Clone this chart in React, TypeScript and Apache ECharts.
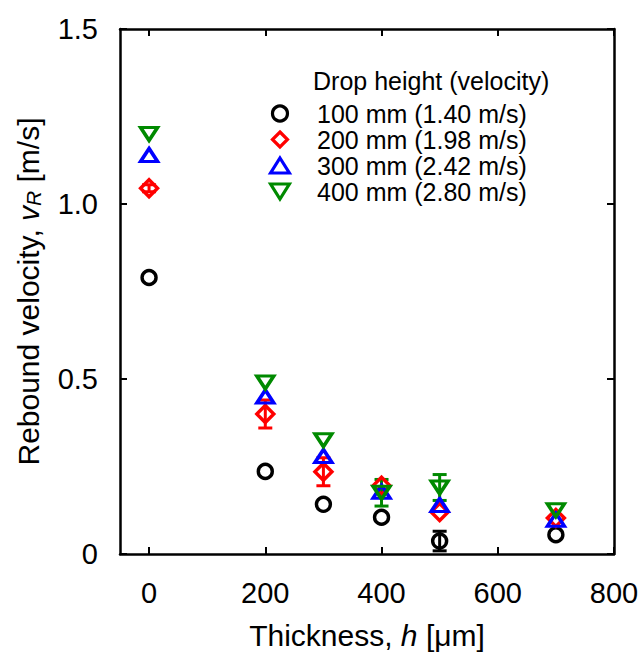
import React, { useEffect, useRef } from "react";
import * as echarts from "echarts";

const thickness = [0, 200, 300, 400, 500, 700];
const v100 = [0.79, 0.236, 0.142, 0.105, 0.037, 0.055];
const e100 = [0, 0, 0, 0, 0.028, 0];
const v200 = [1.045, 0.4, 0.235, 0.195, 0.12, 0.103];
const e200 = [0.01, 0.04, 0.04, 0, 0, 0];
const v300 = [1.14, 0.45, 0.28, 0.178, 0.14, 0.098];
const e300 = [0, 0, 0, 0, 0, 0];
const v400 = [1.2, 0.49, 0.325, 0.175, 0.19, 0.125];
const e400 = [0, 0, 0, 0.038, 0.037, 0];
const seriesNames = [
  "100 mm (1.40 m/s)",
  "200 mm (1.98 m/s)",
  "300 mm (2.42 m/s)",
  "400 mm (2.80 m/s)",
];
const xTicks = [0, 200, 400, 600, 800];

const FONT = "'Liberation Sans', Arial, Helvetica, sans-serif";

export default function App() {
  const ref = useRef<HTMLDivElement>(null);
  useEffect(() => {
    if (!ref.current) return;
    const chart = echarts.init(ref.current, null, { renderer: "svg" });
    const colors = ["#000000", "#ff0000", "#0000ff", "#008a00"];
    const vals = [v100, v200, v300, v400];
    const errs = [e100, e200, e300, e400];
    const symbols = [
      "circle",
      "path://M1,0L2,1L1,2L0,1Z",
      "path://M1,0L2,1.6L0,1.6Z",
      "path://M0,0L2,0L1,1.6Z",
    ];
    const sizes: any[] = [14, [17, 17], [17, 13], [17, 13]];

    const errSeries = vals.map((v, si) => ({
      type: "custom",
      name: "err" + si,
      z: 2,
      silent: true,
      data: thickness
        .map((x, i) => [x, v[i] - errs[si][i], v[i] + errs[si][i], errs[si][i]])
        .filter((d) => d[3] > 0),
      renderItem: (params: any, api: any) => {
        const x = api.value(0);
        const lo = api.coord([x, api.value(1)]);
        const hi = api.coord([x, api.value(2)]);
        const hw = 7;
        const st = { stroke: colors[si], lineWidth: 3 };
        return {
          type: "group",
          children: [
            { type: "line", shape: { x1: lo[0], y1: lo[1], x2: hi[0], y2: hi[1] }, style: st },
            { type: "line", shape: { x1: lo[0] - hw, y1: lo[1], x2: lo[0] + hw, y2: lo[1] }, style: st },
            { type: "line", shape: { x1: hi[0] - hw, y1: hi[1], x2: hi[0] + hw, y2: hi[1] }, style: st },
          ],
        };
      },
      encode: { x: 0, y: [1, 2] },
    }));

    const scatterSeries = vals.map((v, si) => ({
      type: "scatter",
      name: seriesNames[si],
      z: 3,
      symbol: symbols[si],
      symbolSize: sizes[si],
      itemStyle: {
        color: "rgba(0,0,0,0)",
        borderColor: colors[si],
        borderWidth: 3.4,
        opacity: 1,
      },
      data: thickness.map((x, i) => [x, v[i]]),
    }));

    const axisCommon = {
      axisLine: { show: true, onZero: false, lineStyle: { color: "#000", width: 2.5 } },
      axisTick: { show: true, inside: true, length: 7, lineStyle: { color: "#000", width: 2 } },
      splitLine: { show: false },
    };

    chart.setOption({
      animation: false,
      textStyle: { fontFamily: FONT },
      grid: { left: 120, right: 30, top: 29, bottom: 99 },
      legend: {
        show: true,
        orient: "vertical",
        left: 264,
        top: 96,
        itemWidth: 38,
        itemHeight: 15,
        itemGap: 1,
        data: seriesNames.map((n, si) => ({
          name: n,
          itemStyle: { color: "rgba(0,0,0,0)", borderColor: colors[si], borderWidth: 3.2 },
        })),
        textStyle: {
          fontFamily: FONT,
          fontSize: 25,
          color: "#000",
          lineHeight: 25,
          padding: [0, 0, 0, 13],
        },
        selectedMode: false,
      },
      graphic: [
        {
          type: "text",
          left: 313,
          top: 68,
          style: { text: "Drop height (velocity)", font: `25px ${FONT}`, fill: "#000" },
        },
      ],
      xAxis: [
        {
          type: "value",
          min: -50,
          max: 800,
          ...axisCommon,
          axisTick: { ...axisCommon.axisTick, customValues: xTicks },
          axisLabel: {
            customValues: xTicks,
            fontSize: 29,
            color: "#000",
            margin: 24,
            fontFamily: FONT,
          },
          name: "Thickness, {i|h} [μm]",
          nameLocation: "middle",
          nameGap: 66,
          nameTextStyle: {
            fontSize: 30,
            color: "#000",
            fontFamily: FONT,
            rich: { i: { fontSize: 30, fontStyle: "italic", fontFamily: FONT, color: "#000" } },
          },
        },
        {
          type: "value",
          min: -50,
          max: 800,
          position: "top",
          ...axisCommon,
          axisTick: { ...axisCommon.axisTick, customValues: xTicks },
          axisLabel: { show: false },
        },
      ],
      yAxis: [
        {
          type: "value",
          min: 0,
          max: 1.5,
          interval: 0.5,
          ...axisCommon,
          axisLabel: {
            fontSize: 29,
            color: "#000",
            margin: 22,
            fontFamily: FONT,
            formatter: (v: number) => (v === 0 ? "0" : v.toFixed(1)),
          },
          name: "Rebound velocity, {i|v}{sub|R} [m/s]",
          nameLocation: "middle",
          nameGap: 76,
          nameTextStyle: {
            fontSize: 30,
            color: "#000",
            fontFamily: FONT,
            rich: {
              i: { fontSize: 30, fontStyle: "italic", fontFamily: FONT, color: "#000" },
              sub: {
                fontSize: 21,
                fontStyle: "italic",
                fontFamily: FONT,
                color: "#000",
                padding: [10, 0, 0, 0],
              },
            },
          },
        },
        {
          type: "value",
          min: 0,
          max: 1.5,
          interval: 0.5,
          position: "right",
          ...axisCommon,
          axisLabel: { show: false },
        },
      ],
      series: [...errSeries, ...scatterSeries],
    });
    return () => chart.dispose();
  }, []);
  return <div ref={ref} style={{ width: 644, height: 655, position: "absolute", left: 0, top: 0 }} />;
}
